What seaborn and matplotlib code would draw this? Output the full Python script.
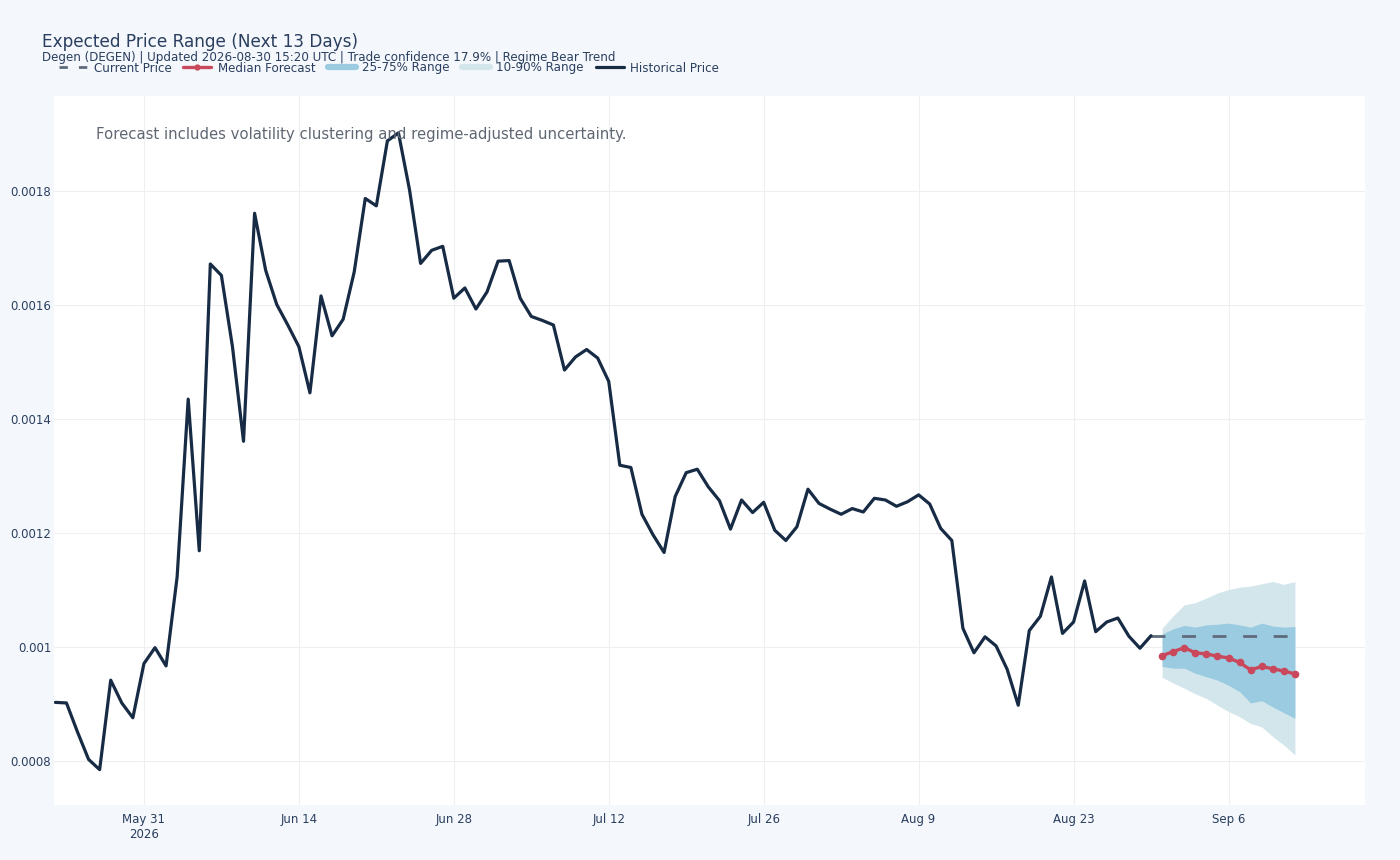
import numpy as np
import pandas as pd
import matplotlib
matplotlib.use("Agg")
import matplotlib.pyplot as plt
import matplotlib.dates as mdates
from matplotlib.lines import Line2D
import seaborn as sns

# historical daily closes, May 23 - Aug 30 2026
hist_start = "2026-05-23"
hist_price = [
    0.000903, 0.000902, 0.000851, 0.000803, 0.000785, 0.000942, 0.000902, 0.000876,
    0.000971, 0.000999, 0.000967, 0.001123, 0.001435, 0.001169, 0.001672, 0.001652,
    0.001527, 0.001361, 0.001761, 0.001661, 0.001601, 0.001565, 0.001527, 0.001446,
    0.001616, 0.001546, 0.001575, 0.001658, 0.001787, 0.001774, 0.001888, 0.001902,
    0.001802, 0.001673, 0.001696, 0.001703, 0.001612, 0.001630, 0.001593, 0.001623,
    0.001677, 0.001678, 0.001612, 0.001580, 0.001573, 0.001565, 0.001486, 0.001509,
    0.001522, 0.001507, 0.001466, 0.001319, 0.001315, 0.001233, 0.001197, 0.001166,
    0.001264, 0.001306, 0.001312, 0.001281, 0.001257, 0.001207, 0.001258, 0.001236,
    0.001254, 0.001205, 0.001187, 0.001211, 0.001277, 0.001252, 0.001242, 0.001233,
    0.001243, 0.001237, 0.001261, 0.001258, 0.001247, 0.001255, 0.001267, 0.001251,
    0.001208, 0.001187, 0.001033, 0.000990, 0.001018, 0.001002, 0.000961, 0.000898,
    0.001029, 0.001054, 0.001123, 0.001024, 0.001044, 0.001116, 0.001027, 0.001044,
    0.001051, 0.001019, 0.000998, 0.001020,
]

# forecast, Aug 31 - Sep 12
fc_start = "2026-08-31"
fc_median = [0.000985, 0.000992, 0.000999, 0.000990, 0.000988, 0.000984, 0.000981,
             0.000973, 0.000960, 0.000966, 0.000962, 0.000958, 0.000953]
fc_p25 = [0.000966, 0.000963, 0.000963, 0.000954, 0.000948, 0.000942, 0.000933,
          0.000922, 0.000902, 0.000906, 0.000895, 0.000885, 0.000875]
fc_p75 = [0.001023, 0.001032, 0.001038, 0.001035, 0.001039, 0.001040, 0.001042,
          0.001039, 0.001035, 0.001042, 0.001037, 0.001035, 0.001036]
fc_p10 = [0.000947, 0.000937, 0.000928, 0.000918, 0.000910, 0.000898, 0.000887,
          0.000878, 0.000866, 0.000860, 0.000843, 0.000828, 0.000811]
fc_p90 = [0.001033, 0.001055, 0.001074, 0.001078, 0.001086, 0.001095, 0.001101,
          0.001105, 0.001107, 0.001111, 0.001115, 0.001110, 0.001115]

current_price = 0.00102
current_span = ["2026-08-30", "2026-09-12"]

tick_dates = ["2026-05-31", "2026-06-14", "2026-06-28", "2026-07-12",
              "2026-07-26", "2026-08-09", "2026-08-23", "2026-09-06"]
y_ticks = [0.0008, 0.001, 0.0012, 0.0014, 0.0016, 0.0018]
y_tick_labels = ["0.0008", "0.001", "0.0012", "0.0014", "0.0016", "0.0018"]

title = "Expected Price Range (Next 13 Days)"
subtitle = "Degen (DEGEN) | Updated 2026-08-30 15:20 UTC | Trade confidence 17.9% | Regime Bear Trend"
note = "Forecast includes volatility clustering and regime-adjusted uncertainty."

hist = pd.DataFrame({"date": pd.date_range(hist_start, periods=len(hist_price), freq="D"),
                     "price": hist_price})
fc = pd.DataFrame({"date": pd.date_range(fc_start, periods=len(fc_median), freq="D"),
                   "median": fc_median, "p25": fc_p25, "p75": fc_p75,
                   "p10": fc_p10, "p90": fc_p90})
cur = pd.DataFrame({"date": pd.to_datetime(current_span),
                    "price": [current_price] * len(current_span)})

# colours
bg = "#f4f7fb"
navy = "#172b45"
red = "#c9485b"
band_dark = "#9acbe1"
band_light = "#d3e6ec"
grey_dash = "#5f6b7a"
text_col = "#2a3f5f"

sns.set_theme(style="whitegrid")
plt.rcParams["font.family"] = ["DejaVu Sans"]

fig = plt.figure(figsize=(14, 8.6), dpi=100, facecolor=bg)
ax = fig.add_axes([54 / 1400, 55 / 860, (1365 - 54) / 1400, (805 - 96) / 860])
ax.set_facecolor("white")

ax.fill_between(fc["date"], fc["p10"], fc["p90"], color=band_light, lw=0, zorder=1)
ax.fill_between(fc["date"], fc["p25"], fc["p75"], color=band_dark, lw=0, zorder=2)
sns.lineplot(data=cur, x="date", y="price", ax=ax, color=grey_dash, lw=2,
             zorder=3).lines[-1].set_dashes([5, 6])
sns.lineplot(data=fc, x="date", y="median", ax=ax, color=red, lw=2.4,
             marker="o", markersize=5.5, markeredgewidth=0, zorder=4)
sns.lineplot(data=hist, x="date", y="price", ax=ax, color=navy, lw=2.3, zorder=5)

ax.set_xlim(pd.Timestamp("2026-05-22 21:00"), pd.Timestamp("2026-09-18 08:00"))
ax.set_ylim(0.000723, 0.0019667)
ax.set_xticks(pd.to_datetime(tick_dates))
ax.set_xticklabels([d.strftime("%b %-d") + ("\n2026" if i == 0 else "")
                    for i, d in enumerate(pd.to_datetime(tick_dates))])
ax.set_yticks(y_ticks)
ax.set_yticklabels(y_tick_labels)
ax.set_xlabel("")
ax.set_ylabel("")
ax.grid(True, color="#edf0f3", lw=0.8)
for s in ax.spines.values():
    s.set_visible(False)
ax.tick_params(axis="both", length=0, labelsize=8.5, colors=text_col)
ax.tick_params(axis="x", pad=6)
ax.tick_params(axis="y", pad=2)

fig.text(96 / 1400, 1 - 134 / 860, note, fontsize=10.7,
         color="#5f6773", va="center", ha="left")

fig.text(42 / 1400, 1 - 42 / 860, title, fontsize=12.2, color=text_col,
         va="center", ha="left")
fig.text(42 / 1400, 1 - 58 / 860, subtitle, fontsize=8.55, color=text_col,
         va="center", ha="left")

handles = [
    Line2D([], [], color=grey_dash, lw=2, dashes=[3, 4]),
    Line2D([], [], color=red, lw=2.4, marker="o", markersize=4.5, markeredgewidth=0),
    Line2D([], [], color=band_dark, lw=4.5),
    Line2D([], [], color=band_light, lw=4.5),
    Line2D([], [], color=navy, lw=2.3),
]
labels = ["Current Price", "Median Forecast", "25-75% Range", "10-90% Range", "Historical Price"]
leg = fig.legend(handles, labels, loc="center left", bbox_to_anchor=(59 / 1400, 1 - 68 / 860),
                 ncol=5, frameon=False, fontsize=8.6, handlelength=2.35,
                 handletextpad=0.55, columnspacing=1.0, borderaxespad=0, borderpad=0)
for t in leg.get_texts():
    t.set_color(text_col)

fig.savefig("out.png", dpi=100, facecolor=bg)
